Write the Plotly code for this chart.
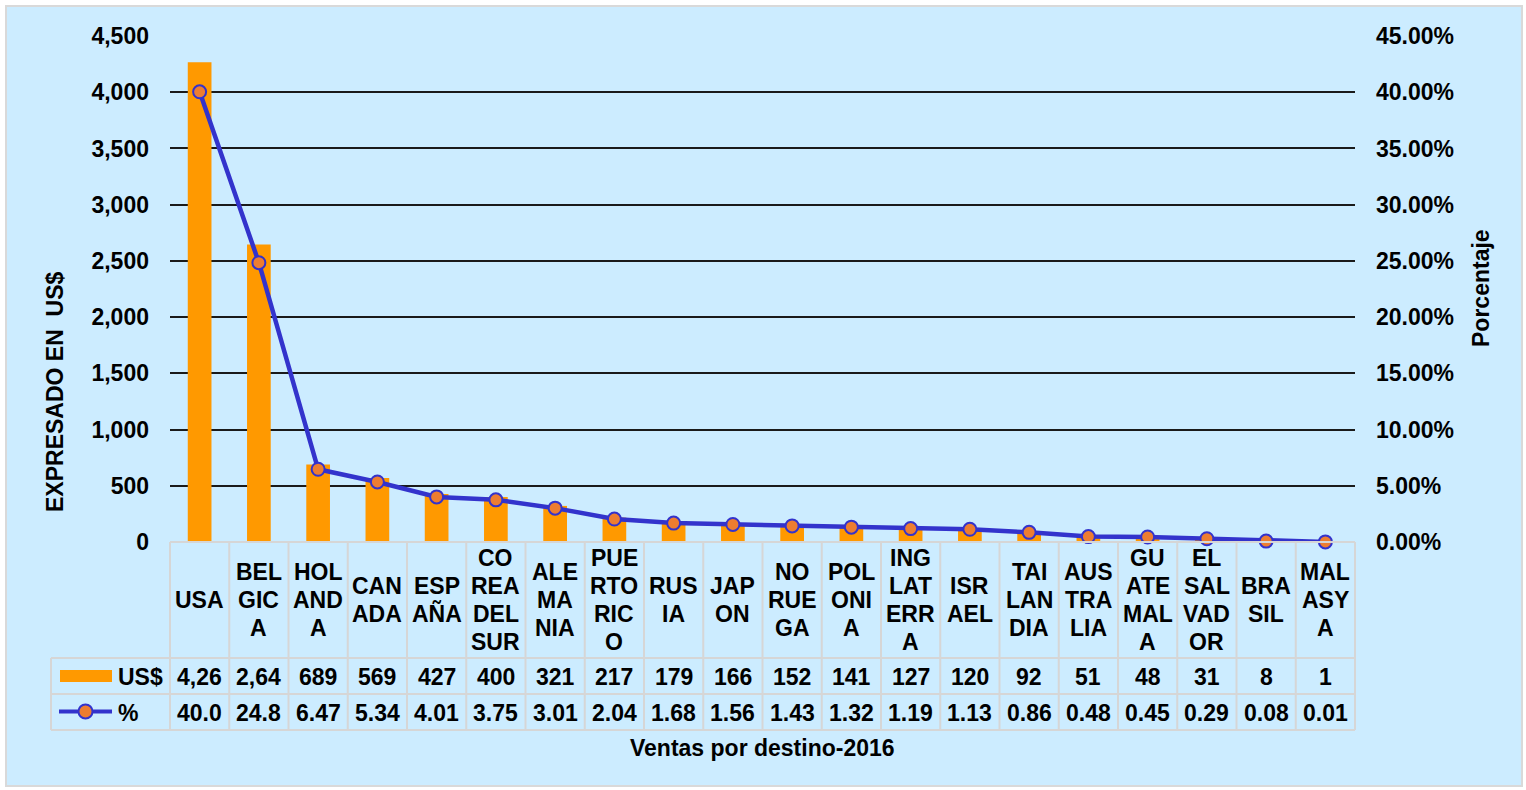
import plotly.graph_objects as go

# Sales by destination, 2016
categories = ["USA", "BEL\nGIC\nA", "HOL\nAND\nA", "CAN\nADA", "ESP\nAÑA",
              "CO\nREA\nDEL\nSUR", "ALE\nMA\nNIA", "PUE\nRTO\nRIC\nO", "RUS\nIA", "JAP\nON",
              "NO\nRUE\nGA", "POL\nONI\nA", "ING\nLAT\nERR\nA", "ISR\nAEL", "TAI\nLAN\nDIA",
              "AUS\nTRA\nLIA", "GU\nATE\nMAL\nA", "EL\nSAL\nVAD\nOR", "BRA\nSIL", "MAL\nASY\nA"]
usd = [4266, 2645, 689, 569, 427, 400, 321, 217, 179, 166,
       152, 141, 127, 120, 92, 51, 48, 31, 8, 1]
pct = [40.04, 24.84, 6.47, 5.34, 4.01, 3.75, 3.01, 2.04, 1.68, 1.56,
       1.43, 1.32, 1.19, 1.13, 0.86, 0.48, 0.45, 0.29, 0.08, 0.01]
left_ticks = [0, 500, 1000, 1500, 2000, 2500, 3000, 3500, 4000, 4500]
right_ticks = [0, 5, 10, 15, 20, 25, 30, 35, 40, 45]

W, H = 1526, 790
PL, PR, PT, PB = 170, 1355, 36, 542          # plot area in pixels
FONT = "Liberation Sans, Arial, sans-serif"
BAR_C = "#FF9900"
LINE_C = "#3333CC"
MARK_C = "#ED7D31"
GRID_TABLE = "#D6D6D6"
BG = "#CCECFF"
FS = 23


def px_x(px):
    return (px - PL) / (PR - PL)


def px_y(py):
    return (PB - py) / (PB - PT)


n = len(categories)
xs = list(range(n))

fig = go.Figure()
fig.add_trace(go.Bar(x=xs, y=usd, marker=dict(color=BAR_C, line=dict(width=0)),
                     name="US$", yaxis="y"))
fig.add_trace(go.Scatter(x=xs, y=pct, mode="lines+markers", name="%", yaxis="y2",
                         line=dict(color=LINE_C, width=4.5),
                         marker=dict(size=13, color=MARK_C, line=dict(color=LINE_C, width=2)),
                         cliponaxis=False))

shapes = []
annotations = []

# Chart area background with thin border
shapes.append(dict(type="rect", xref="paper", yref="paper", layer="below",
                   x0=px_x(6), x1=px_x(1522), y0=px_y(786), y1=px_y(6),
                   fillcolor=BG, line=dict(color="#D9D9D9", width=2)))

# Data table grid
col_w = (PR - PL) / n
ROW_TOP, ROW1, ROW2, ROW3 = 542, 658, 694, 730
LEG_L = 51
for k in range(n + 1):
    xp = PL + k * col_w
    shapes.append(dict(type="line", xref="paper", yref="paper",
                       x0=px_x(xp), x1=px_x(xp), y0=px_y(ROW_TOP), y1=px_y(ROW3),
                       line=dict(color=GRID_TABLE, width=2)))
shapes.append(dict(type="line", xref="paper", yref="paper",
                   x0=px_x(PL), x1=px_x(PR), y0=px_y(ROW_TOP), y1=px_y(ROW_TOP),
                   line=dict(color=GRID_TABLE, width=2)))
for yy in (ROW1, ROW2, ROW3):
    shapes.append(dict(type="line", xref="paper", yref="paper",
                       x0=px_x(LEG_L), x1=px_x(PR), y0=px_y(yy), y1=px_y(yy),
                       line=dict(color=GRID_TABLE, width=2)))
shapes.append(dict(type="line", xref="paper", yref="paper",
                   x0=px_x(LEG_L), x1=px_x(LEG_L), y0=px_y(ROW1), y1=px_y(ROW3),
                   line=dict(color=GRID_TABLE, width=2)))

font = dict(family=FONT, size=FS, color="#000000", weight="bold")

# Category names, one line per annotation so the spacing stays tight
LINE_H = 27.7
cat_mid = (ROW_TOP + ROW1) / 2
for i, lab in enumerate(categories):
    lines = lab.split("\n")
    start = cat_mid - (len(lines) - 1) * LINE_H / 2
    for j, ln in enumerate(lines):
        annotations.append(dict(xref="x", yref="paper", x=i, y=px_y(start + j * LINE_H),
                                text=ln, showarrow=False, font=font,
                                xanchor="center", yanchor="middle"))

# Values rows (narrow cells clip long numbers to four characters)
for i in range(n):
    annotations.append(dict(xref="x", yref="paper", x=i, y=px_y((ROW1 + ROW2) / 2 + 1),
                            text=f"{usd[i]:,}"[:4], showarrow=False, font=font,
                            xanchor="center", yanchor="middle"))
    annotations.append(dict(xref="x", yref="paper", x=i, y=px_y((ROW2 + ROW3) / 2 + 1),
                            text=f"{pct[i]:.2f}"[:4], showarrow=False, font=font,
                            xanchor="center", yanchor="middle"))

# Legend keys inside the table
shapes.append(dict(type="rect", xref="paper", yref="paper",
                   x0=px_x(60), x1=px_x(112), y0=px_y(682), y1=px_y(670),
                   fillcolor=BAR_C, line=dict(width=0)))
shapes.append(dict(type="line", xref="paper", yref="paper",
                   x0=px_x(59), x1=px_x(112), y0=px_y(711.5), y1=px_y(711.5),
                   line=dict(color=LINE_C, width=4)))
shapes.append(dict(type="circle", xref="paper", yref="paper",
                   x0=px_x(78.5), x1=px_x(92.5), y0=px_y(718.5), y1=px_y(704.5),
                   fillcolor=MARK_C, line=dict(color=LINE_C, width=2)))
annotations.append(dict(xref="paper", yref="paper", x=px_x(116), y=px_y(677),
                        text="US$", showarrow=False, font=font,
                        xanchor="left", yanchor="middle"))
annotations.append(dict(xref="paper", yref="paper", x=px_x(116), y=px_y(713),
                        text="%", showarrow=False, font=font,
                        xanchor="left", yanchor="middle"))

# Axis titles
annotations.append(dict(xref="paper", yref="paper", x=px_x(55), y=px_y(392),
                        text="EXPRESADO EN  US$", textangle=-90, showarrow=False,
                        font=font, xanchor="center", yanchor="middle"))
annotations.append(dict(xref="paper", yref="paper", x=px_x(1481), y=px_y(288),
                        text="Porcentaje", textangle=-90, showarrow=False,
                        font=font, xanchor="center", yanchor="middle"))
annotations.append(dict(xref="paper", yref="paper", x=px_x(762), y=px_y(748),
                        text="Ventas por destino-2016", showarrow=False,
                        font=font, xanchor="center", yanchor="middle"))

fig.update_layout(
    width=W, height=H,
    margin=dict(l=PL, r=W - PR, t=PT, b=H - PB, pad=0),
    paper_bgcolor="#FFFFFF",
    plot_bgcolor="rgba(0,0,0,0)",
    showlegend=False,
    bargap=0.6,
    shapes=shapes,
    annotations=annotations,
    xaxis=dict(range=[-0.5, n - 0.5], showticklabels=False, showgrid=False,
               zeroline=False, showline=False, ticks=""),
    yaxis=dict(range=[0, 4500], tickvals=left_ticks, tickformat=",d",
               showgrid=True, gridcolor="#1A1A1A", gridwidth=1.5,
               zeroline=False, showline=False, ticks="",
               tickfont=font, ticklabelstandoff=20),
    yaxis2=dict(range=[0, 45], tickvals=right_ticks,
                ticktext=[f"{v:.2f}%" for v in right_ticks],
                overlaying="y", side="right", showgrid=False, zeroline=False,
                showline=False, ticks="", tickfont=font, ticklabelstandoff=20),
    font=dict(family=FONT),
)

fig.write_html("out.html")
